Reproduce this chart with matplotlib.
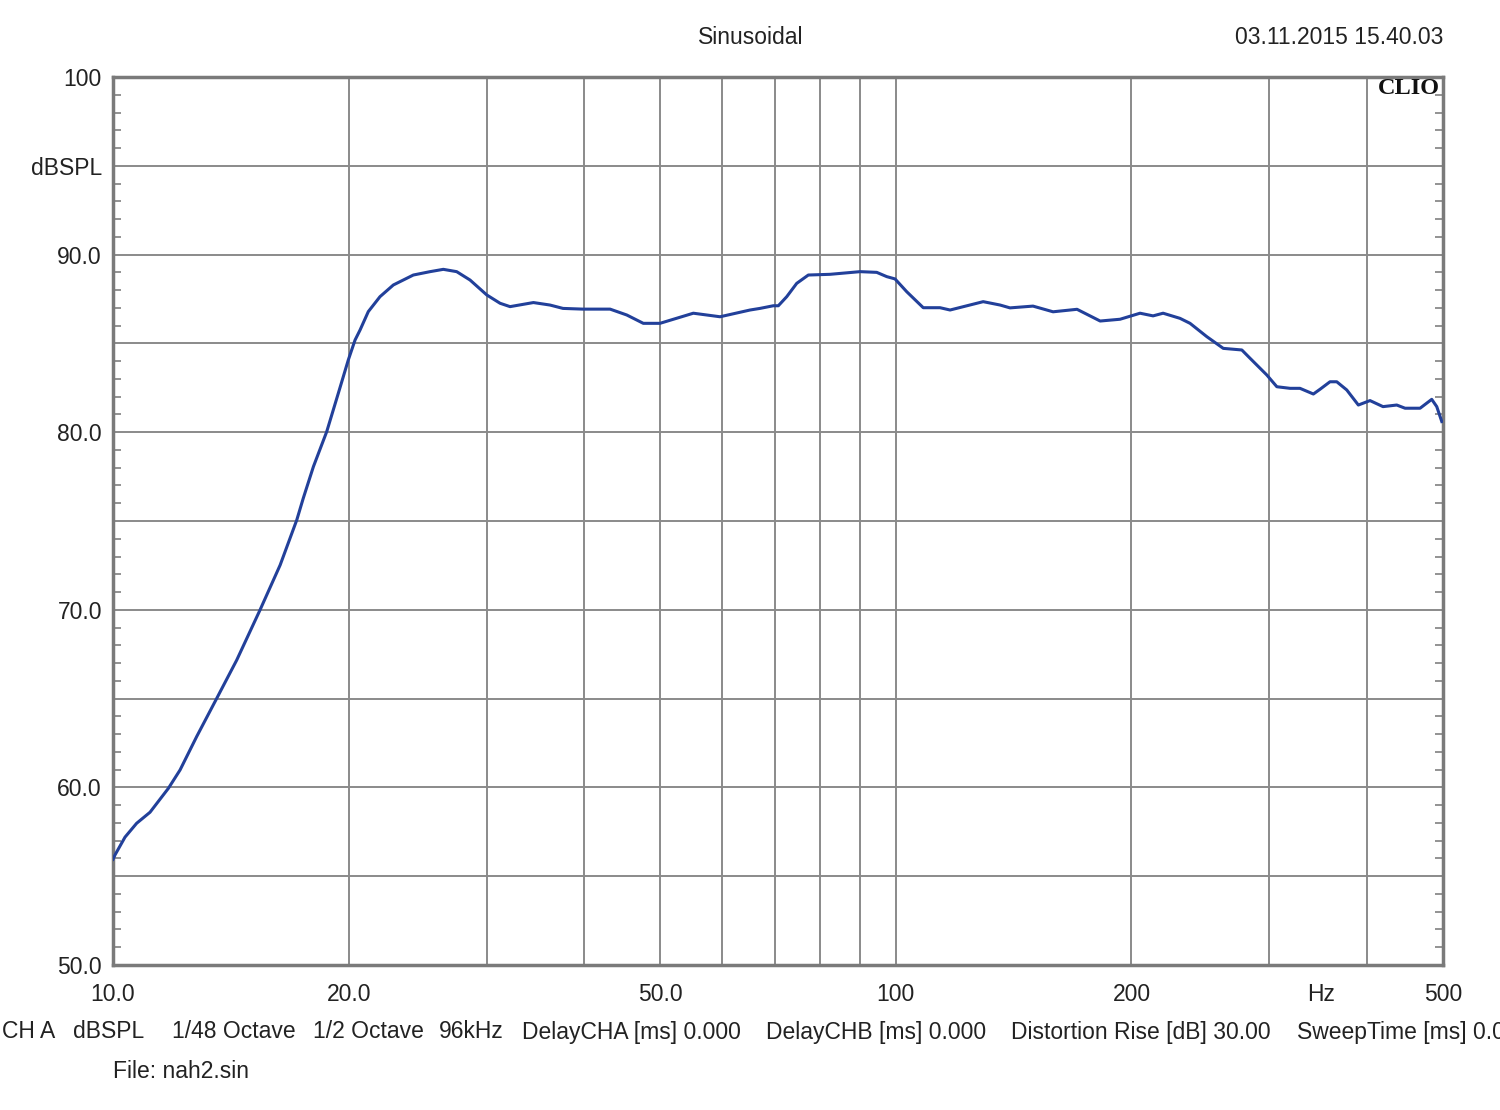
import numpy as np
import matplotlib
matplotlib.use("Agg")
import matplotlib.pyplot as plt
from matplotlib.ticker import FixedLocator, NullFormatter

plt.rcParams['font.family'] = ['Liberation Sans', 'DejaVu Sans']

# frequency response (Hz, dBSPL)
freq = [10.0, 10.06, 10.36, 10.72, 11.15, 11.77, 12.18, 12.79, 13.57, 14.39, 15.41,
        16.35, 17.17, 17.50, 18.03, 18.75, 19.40, 19.98, 20.38, 20.68, 21.19,
        21.93, 22.81, 24.19, 25.41, 26.42, 27.48, 28.58, 30.02, 31.22, 32.15,
        34.44, 36.16, 37.57, 39.84, 43.15, 45.32, 47.58, 49.97, 55.12, 59.63,
        65.13, 67.05, 69.75, 70.78, 72.55, 74.71, 77.31, 82.41, 90.02, 94.54,
        97.36, 99.77, 103.26, 108.4, 113.88, 117.3, 129.3, 135.9, 139.9, 149.7,
        158.8, 170.4, 182.4, 193.4, 205.1, 213.1, 219.5, 230.7, 237.6, 249.6,
        262.0, 276.7, 283.5, 297.8, 306.7, 318.9, 328.3, 341.5, 348.3, 358.6,
        365.8, 376.7, 389.8, 403.4, 419.1, 436.4, 447.2, 467.4, 483.7, 490.9,
        498.2]
spl = [55.95, 56.2, 57.2, 57.98, 58.6, 59.95, 60.98, 62.86, 65.02, 67.17, 69.99,
       72.52, 75.06, 76.28, 78.06, 80.03, 82.19, 84.07, 85.19, 85.75, 86.79,
       87.63, 88.29, 88.85, 89.04, 89.17, 89.04, 88.57, 87.73, 87.26, 87.07,
       87.3, 87.16, 86.97, 86.93, 86.93, 86.6, 86.13, 86.13, 86.7, 86.5,
       86.88, 86.97, 87.12, 87.12, 87.63, 88.38, 88.85, 88.89, 89.04, 89.0,
       88.76, 88.63, 87.91, 87.01, 87.01, 86.88, 87.35, 87.16, 87.0, 87.1,
       86.78, 86.92, 86.26, 86.36, 86.7, 86.55, 86.7, 86.41, 86.13, 85.38,
       84.72, 84.63, 84.16, 83.22, 82.56, 82.47, 82.47, 82.15, 82.42, 82.84,
       82.84, 82.38, 81.53, 81.78, 81.44, 81.53, 81.35, 81.35, 81.85, 81.44,
       80.6]

x_grid = [20, 30, 40, 50, 60, 70, 80, 90, 100, 200, 300, 400]
x_ticks = [10, 20, 50, 100, 200, 500]
x_labels = ['10.0', '20.0', '50.0', '100', '200', '500']
y_ticks = [50, 55, 60, 65, 70, 75, 80, 85, 90, 95, 100]
y_labels = ['50.0', '', '60.0', '', '70.0', '', '80.0', '', '90.0', 'dBSPL', '100']

info_items = ['CH A', 'dBSPL', '1/48 Octave', '1/2 Octave', '96kHz',
              'DelayCHA [ms] 0.000', 'DelayCHB [ms] 0.000',
              'Distortion Rise [dB] 30.00', 'SweepTime [ms] 0.000']
info_x = [2, 73, 172, 313, 439, 522, 766, 1011, 1297]

fs = 16.5
txt_c = '#222222'
grid_c = '#8a8a8a'

fig = plt.figure(figsize=(15, 11.1), dpi=100)
ax = fig.add_axes([113/1500, 145/1110, 1330/1500, 888/1110])

ax.set_xscale('log')
ax.set_xlim(10, 500)
ax.set_ylim(50, 100)

for g in x_grid:
    ax.axvline(g, color=grid_c, lw=1.4, zorder=1)
for g in y_ticks[1:-1]:
    ax.axhline(g, color=grid_c, lw=1.4, zorder=1)

ax.plot(freq, spl, color='#22409a', lw=2.2, zorder=3)

ax.xaxis.set_major_locator(FixedLocator(x_ticks))
ax.xaxis.set_major_formatter(plt.FixedFormatter(x_labels))
ax.xaxis.set_minor_formatter(NullFormatter())
ax.xaxis.set_minor_locator(FixedLocator([]))
ax.tick_params(axis='x', which='major', length=0, pad=13, labelsize=fs, colors=txt_c)

ax.yaxis.set_major_locator(FixedLocator(y_ticks))
ax.yaxis.set_major_formatter(plt.FixedFormatter(y_labels))
minor_y = [v for v in range(50, 101) if v % 5 != 0]
ax.yaxis.set_minor_locator(FixedLocator(minor_y))
ax.tick_params(axis='y', which='major', length=0, pad=8, labelsize=fs, colors=txt_c)
ax.tick_params(axis='y', which='minor', direction='in', length=6, width=1.3,
               color=grid_c, left=True, right=True)

for s in ax.spines.values():
    s.set_color('#7a7a7a')
    s.set_linewidth(2.5)

# unit label sits between the 300 and 400 grid lines, same baseline as tick labels
ax.annotate('Hz', xy=(1321/1500, 145/1110), xycoords='figure fraction',
            xytext=(0, -13), textcoords='offset points', ha='center', va='top',
            fontsize=fs, color=txt_c)

fig.text(751/1500, 1 - 38/1110, 'Sinusoidal', ha='center', va='center',
         fontsize=fs, color=txt_c)
fig.text(1443/1500, 1 - 38/1110, '03.11.2015 15.40.03', ha='right', va='center',
         fontsize=fs, color=txt_c)
fig.text(1440/1500, 1 - 89/1110, 'CLIO', ha='right', va='center', fontsize=17.5,
         fontweight='bold', family=['Liberation Serif', 'DejaVu Serif'], color='#111111')

for lbl, px in zip(info_items, info_x):
    fig.text(px/1500, 1 - 1032/1110, lbl, ha='left', va='center', fontsize=fs,
             color=txt_c)
fig.text(113/1500, 1 - 1072/1110, 'File: nah2.sin', ha='left', va='center',
         fontsize=fs, color=txt_c)

fig.savefig('out.png', dpi=100)
